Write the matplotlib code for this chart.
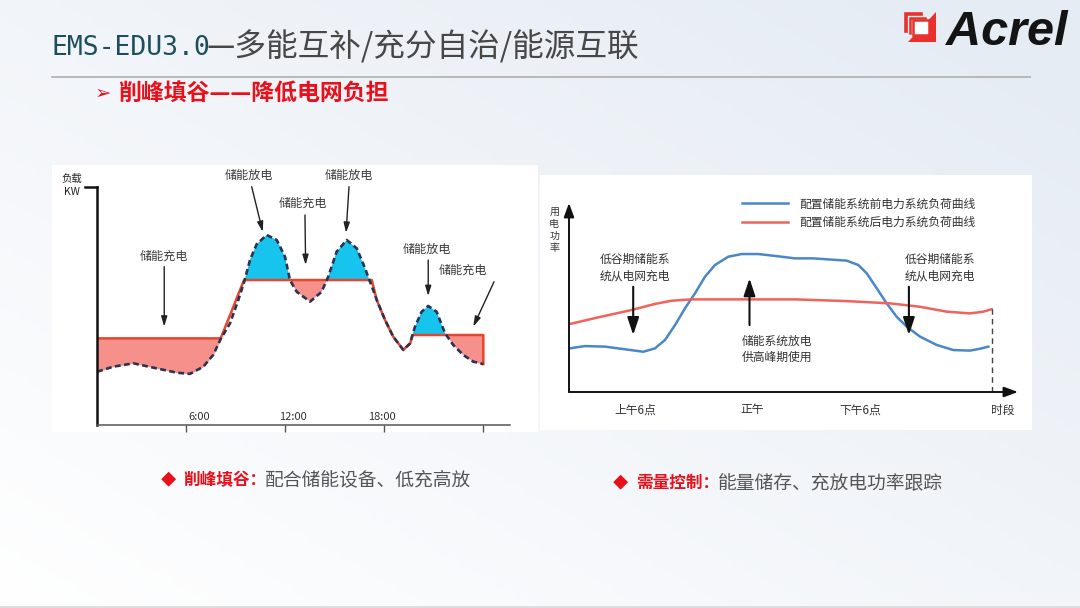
import numpy as np
import matplotlib
matplotlib.use('Agg')
import matplotlib.pyplot as plt
from matplotlib.patches import Rectangle, Polygon

plt.rcParams['font.family'] = ['Noto Sans CJK SC', 'DejaVu Sans']

W, H = 1080, 608

# ---- left chart: load over the day, before / after peak shaving ----
hours = [0.62, 1.59, 2.81, 4.22, 5.44, 6.24, 7.05, 7.65, 8.10,
         8.67, 9.17, 9.52, 9.88, 10.28, 10.89, 11.50, 12.0, 12.30,
         12.71, 13.52, 14.22, 14.62, 15.13, 15.74, 16.35, 16.85, 17.15,
         17.26, 17.56, 18.06, 18.56, 19.17, 19.58, 19.74, 19.88, 20.28,
         20.68, 21.19, 21.70, 22.2, 22.8, 23.41, 24.02]
load_before = [22.2, 24.3, 25.7, 23.6, 21.8, 21.3, 24.3, 29.2, 35.8,
               42.4, 52.1, 59.5, 68.8, 75.3, 79.2, 77.1, 70.1, 60.4,
               55.5, 51.4, 55.5, 61.8, 72.2, 77.1, 73.6, 65.3, 59.7,
               57.8, 52.1, 43.8, 36.8, 31.3, 34.0, 37.9, 41.0, 47.2,
               49.6, 47.2, 38.2, 33.3, 29.2, 26.4, 25.4]
load_after = [36.1, 36.1, 36.1, 36.1, 36.1, 36.1, 36.1, 36.1, 36.1,
              45.8, 54.5, 60.4, 60.4, 60.4, 60.4, 60.4, 60.4, 60.4,
              60.4, 60.4, 60.4, 60.4, 60.4, 60.4, 60.4, 60.4, 60.4,
              60.4, 52.1, 43.8, 36.8, 31.3, 34.0, 37.5, 37.5, 37.5,
              37.5, 37.5, 37.5, 37.5, 37.5, 37.5, 37.5]
left_ticks = [6, 12, 18, 24]
left_tick_labels = ['6:00', '12:00', '18:00']
left_label_pos = [6.8, 12.5, 17.9]

# ---- right chart: power demand, before / after storage ----
t_before = [0.22, 3.56, 8.02, 12.47, 16.55, 19.15, 21.38, 23.61, 25.84,
            28.06, 30.29, 32.52, 35.48, 38.46, 42.16, 45.88, 50.33, 54.41,
            61.85, 64.43, 66.30, 68.53, 70.76, 72.98, 75.21, 78.17, 81.89,
            85.59, 89.31, 91.54, 93.39]
p_before = [23.1, 24.3, 24.0, 22.6, 21.3, 23.1, 27.5, 35.4, 44.3,
            52.2, 61.0, 67.2, 71.6, 73.0, 73.0, 72.0, 70.7, 70.7,
            69.5, 67.2, 62.8, 54.9, 46.9, 39.8, 34.6, 29.3, 24.9,
            22.2, 21.9, 22.9, 24.0]
t_after = [0.22, 6.53, 13.96, 19.15, 22.87, 27.33, 50.33, 61.85, 71.49,
           78.17, 84.12, 89.31, 92.27, 94.14]
p_after = [36.0, 39.5, 43.4, 46.6, 48.3, 49.0, 49.0, 48.1, 46.9,
           45.1, 42.5, 41.6, 42.5, 43.8]
right_xlabels = ['上午6点', '正午', '下午6点', '时段']
right_xlabel_pos = [14.7, 40.8, 64.8, 96.7]
legend_labels = ['配置储能系统前电力系统负荷曲线', '配置储能系统后电力系统负荷曲线']

fig = plt.figure(figsize=(W / 100, H / 100), dpi=100)

# background slide (pixel coordinates)
bg = fig.add_axes([0, 0, 1, 1])
gx, gy = np.meshgrid(np.linspace(0, 1, 240), np.linspace(0, 1, 140))
f = np.clip(0.55 * gx + 0.55 * (1 - gy), 0, 1)
c0 = np.array([1.0, 1.0, 1.0])
c1 = np.array([0.905, 0.928, 0.958])
bg.imshow(c0 + (c1 - c0) * f[..., None], extent=(0, W, H, 0), aspect='auto', zorder=0)
bg.set_xlim(0, W)
bg.set_ylim(H, 0)
bg.axis('off')

bg.add_patch(Rectangle((52, 165), 486, 267, fc='white', ec='none', zorder=1))
bg.add_patch(Rectangle((540, 175), 492, 255, fc='white', ec='none', zorder=1))
bg.plot([52, 1030], [77, 77], color='#b4b4b4', lw=1.3, zorder=2)
bg.plot([0, W], [607, 607], color='#dcdcdc', lw=2, zorder=2)

# title
bg.text(52, 48, 'EMS-EDU3.0', family=['DejaVu Sans Mono', 'Noto Sans CJK SC'],
        fontsize=19, color='#1d4e5e', va='center', ha='left', zorder=3)
bg.text(207, 47, '—多能互补/充分自治/能源互联', fontsize=22.8, color='#474747',
        va='center', ha='left', zorder=3)
bg.text(95, 93, '➢', family=['DejaVu Sans'], fontsize=14, color='#e8101a',
        va='center', ha='left', zorder=3)
bg.text(118, 93, '削峰填谷——降低电网负担', fontsize=16.5, fontweight='bold',
        color='#e8101a', va='center', ha='left', zorder=3)

# logo
bg.add_patch(Polygon([(936, 12), (936, 42), (908, 42)], closed=True,
                     fc='#e8312c', ec='none', zorder=3))
bg.add_patch(Rectangle((913, 20), 16, 15, fc='white', ec='#e8312c', lw=1.8, zorder=4))
bg.plot([906, 906, 921], [31, 14, 14], color='#e8312c', lw=2.6, zorder=4,
        solid_joinstyle='miter')
bg.plot([910, 910, 925], [33, 18, 18], color='#e8312c', lw=1.8, zorder=4,
        solid_joinstyle='miter')
bg.text(946, 45, 'Acrel', family=['Liberation Sans'], fontsize=35, fontweight='bold',
        fontstyle='italic', color='#141414', va='baseline', ha='left', zorder=3)

# bottom captions
bg.text(168, 480, '◆', fontsize=11, color='#e8101a', va='center', ha='center', zorder=3)
bg.text(183, 480, '削峰填谷：', fontsize=12, fontweight='bold', color='#e8101a',
        va='center', ha='left', zorder=3)
bg.text(265, 480, '配合储能设备、低充高放', fontsize=13.5, color='#555555',
        va='center', ha='left', zorder=3)
bg.text(620, 483, '◆', fontsize=11, color='#e8101a', va='center', ha='center', zorder=3)
bg.text(636, 483, '需量控制：', fontsize=12, fontweight='bold', color='#e8101a',
        va='center', ha='left', zorder=3)
bg.text(718, 483, '能量储存、充放电功率跟踪', fontsize=13.5, color='#555555',
        va='center', ha='left', zorder=3)

# left axis caption
bg.text(72, 179, '负载', fontsize=7.5, color='#222222', va='center', ha='center', zorder=3)
bg.text(72, 192, 'KW', fontsize=7.5, color='#222222', va='center', ha='center', zorder=3)

# ---------------- left chart ----------------
axL = fig.add_axes([97 / W, 1 - 425 / H, 413 / W, 238.3 / H])
axL.patch.set_alpha(0)
axL.set_xlim((97 - 87) / 16.5, (510 - 87) / 16.5)
axL.set_ylim(0, 99.3)

h = np.array(hours)
lb = np.array(load_before)
la = np.array(load_after)
axL.fill_between(h, la, lb, where=lb >= la, interpolate=True, color='#16c4ee', lw=0)
for a, b in [(0, 9), (11, 28), (33, 43)]:
    axL.fill_between(h[a:b], lb[a:b], la[a:b], where=lb[a:b] <= la[a:b],
                     interpolate=True, color='#f6908a', lw=0)
axL.plot(hours + [hours[-1]], load_after + [load_before[-1]], color='#e8452f', lw=1.8)
axL.plot(hours, load_before, color='#2a3350', lw=1.9, ls=(0, (2.2, 1.3)))

for s in ['top', 'right']:
    axL.spines[s].set_visible(False)
axL.spines['left'].set_linewidth(1.8)
axL.spines['left'].set_color('#111111')
axL.spines['bottom'].set_linewidth(1.1)
axL.spines['bottom'].set_color('#555555')
axL.set_xticks(left_ticks)
axL.set_xticklabels([])
axL.set_yticks([])
axL.tick_params(axis='x', direction='out', length=5, width=1, color='#555555')
axL.plot([-0.029, 0], [1, 1], transform=axL.transAxes, color='#111111', lw=1.8,
         clip_on=False)
for lbl, x in zip(left_tick_labels, left_label_pos):
    axL.text(x, 3.3, lbl, fontsize=8, color='#333333', ha='center', va='center')

left_notes = [
    ('储能放电', (9.82, 104.2), (9.98, 99.3), (10.65, 80.5)),
    ('储能充电', (13.09, 92.6), (13.21, 87.5), (13.25, 66.7)),
    ('储能放电', (15.88, 104.2), (15.88, 99.3), (15.70, 80.1)),
    ('储能充电', (4.67, 70.4), (4.68, 66.0), (4.68, 41.0)),
    ('储能放电', (20.61, 73.2), (20.68, 68.75), (20.68, 53.75)),
    ('储能充电', (22.79, 64.6), (24.67, 59.7), (23.41, 41.0)),
]
for txt, txy, a0, a1 in left_notes:
    axL.text(txy[0], txy[1], txt, fontsize=8.7, color='#3a3a3a', ha='center',
             va='center', clip_on=False)
    axL.annotate('', xy=a1, xytext=a0, annotation_clip=False,
                 arrowprops=dict(arrowstyle='-|>,head_length=0.6,head_width=0.18',
                                 color='#222222', lw=1.0, mutation_scale=10,
                                 shrinkA=0, shrinkB=0))

# ---------------- right chart ----------------
axR = fig.add_axes([569 / W, 1 - 392 / H, 449 / W, 189 / H])
axR.patch.set_alpha(0)
axR.set_xlim(0, 100)
axR.set_ylim(0, 100)
axR.axis('off')

axR.plot(t_before, p_before, color='#4a87c9', lw=1.8, label=legend_labels[0],
         solid_joinstyle='round')
axR.plot(t_after, p_after, color='#f0625b', lw=1.8, label=legend_labels[1],
         solid_joinstyle='round')
axR.plot([t_after[-1], t_after[-1]], [0, p_after[-1]], color='#444444', lw=1.0,
         ls=(0, (4, 3)))

axis_arrow = dict(arrowstyle='-|>,head_length=0.6,head_width=0.22', color='#111111',
                  lw=1.4, mutation_scale=14, shrinkA=0, shrinkB=0)
axR.annotate('', xy=(0, 1), xytext=(0, 0), xycoords='axes fraction', arrowprops=axis_arrow)
axR.annotate('', xy=(1, 0), xytext=(0, 0), xycoords='axes fraction', arrowprops=axis_arrow)

axR.legend(loc='upper left', bbox_to_anchor=(0.385, 1.03), frameon=False,
           fontsize=8.5, handlelength=3.9, handletextpad=1.0, labelspacing=0.45,
           borderpad=0, borderaxespad=0, labelcolor='#333333')

axR.text(-3.3, 85.7, '用\n电\n功\n率', fontsize=7.2, color='#333333', ha='center',
         va='center', linespacing=1.25, clip_on=False)
for lbl, x in zip(right_xlabels, right_xlabel_pos):
    axR.text(x, -9.5, lbl, fontsize=8.5, color='#333333', ha='center', va='center',
             clip_on=False)

right_notes = [
    ('低谷期储能系\n统从电网充电', (14.6, 65.9)),
    ('低谷期储能系\n统从电网充电', (82.6, 65.9)),
    ('储能系统放电\n供高峰期使用', (46.4, 22.8)),
]
for txt, xy in right_notes:
    axR.text(xy[0], xy[1], txt, fontsize=8.5, color='#333333', ha='center',
             va='center', linespacing=1.3)

note_arrow = dict(arrowstyle='-|>,head_length=0.75,head_width=0.25', color='#111111',
                  lw=1.5, mutation_scale=14, shrinkA=0, shrinkB=0)
for a0, a1 in [((14.3, 55.7), (14.3, 30.2)), ((40.2, 35.4), (40.2, 60.1)),
               ((75.7, 55.7), (75.7, 30.2))]:
    axR.annotate('', xy=a1, xytext=a0, arrowprops=note_arrow)

fig.savefig('out.png', dpi=100)
